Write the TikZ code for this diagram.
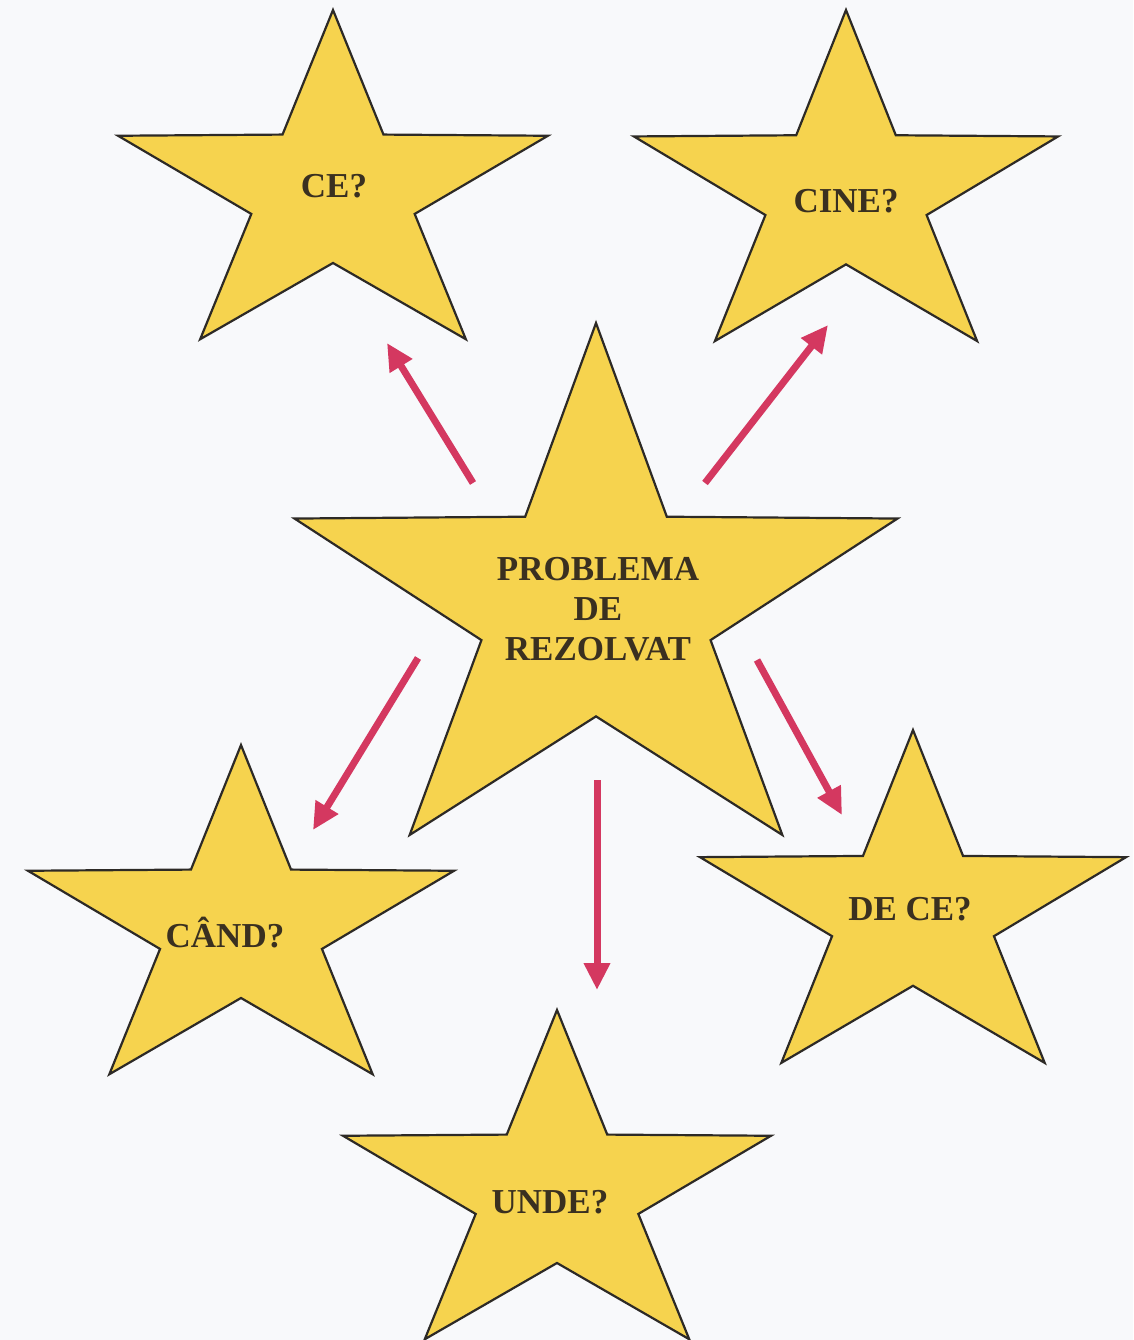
\documentclass[tikz,border=0pt]{standalone}
\usepackage{fontspec}
\setmainfont{Liberation Serif}
\usetikzlibrary{arrows.meta}
\definecolor{bgc}{RGB}{248,249,251}
\definecolor{starfill}{RGB}{246,211,78}
\definecolor{starline}{RGB}{45,42,38}
\definecolor{txt}{RGB}{58,48,32}
\definecolor{arrc}{RGB}{212,56,96}
\tikzset{
  starshape/.style={draw=starline, fill=starfill, line width=2.2pt, line join=miter},
  lbl/.style={font=\fontsize{35}{40}\selectfont\bfseries, text=txt, inner sep=0pt, align=center},
  arr/.style={draw=arrc, line width=7pt, -{Triangle[length=27pt,width=25pt]}},
}
% name, cx, cy (pixels, downward), Rx, Ry
\newcommand\mystarpoly[5]{%
  \begin{scope}[shift={(#2,-#3)}]
    \pgfmathsetmacro\irx{0.38*#4}\pgfmathsetmacro\iry{0.39*#5}
    \coordinate (#1) at (0,0);
    \draw[starshape] (90:{#4} and {#5}) -- (126:{\irx} and {\iry}) -- (162:{#4} and {#5})
      -- (198:{\irx} and {\iry}) -- (234:{#4} and {#5}) -- (270:{\irx} and {\iry})
      -- (306:{#4} and {#5}) -- (342:{\irx} and {\iry}) -- (18:{#4} and {#5})
      -- (54:{\irx} and {\iry}) -- cycle;
  \end{scope}}
\begin{document}
\begin{tikzpicture}[x=1pt,y=1pt]
\fill[bgc] (0,0) rectangle (1133,-1340);
\useasboundingbox (0,0) rectangle (1133,-1340);
\begin{scope}
\clip (0,0) rectangle (1133,-1340);
\mystarpoly{sce}{333}{192}{226}{182}
\mystarpoly{scine}{846}{193}{223}{183}
\mystarpoly{sprob}{596}{606}{317}{283}
\mystarpoly{scand}{241}{927}{224}{182}
\mystarpoly{sdece}{913}{914}{224}{184}
\mystarpoly{sunde}{557}{1192}{225}{182}
\end{scope}
\node[lbl, anchor=base] (ce) at (334,-198) {CE?};
\node[lbl, anchor=base] (cine) at (846,-213) {CINE?};
\node[lbl] (prob) at (598,-609) {PROBLEMA\\DE\\REZOLVAT};
\node[lbl, anchor=base] (cand) at (225,-947) {CÂND?};
\node[lbl, anchor=base] (dece) at (910,-920) {DE CE?};
\node[lbl, anchor=base] (unde) at (550,-1213) {UNDE?};
% arrow end points
\coordinate (a1s) at (473,-483); \coordinate (a1e) at (387,-343);
\coordinate (a2s) at (705,-483); \coordinate (a2e) at (828,-325);
\coordinate (a3s) at (418,-658); \coordinate (a3e) at (313,-830);
\coordinate (a4s) at (757,-660); \coordinate (a4e) at (842,-815);
\coordinate (a5s) at (597,-780); \coordinate (a5e) at (597,-990);
\draw[arr] (a1s) -- (a1e);
\draw[arr] (a2s) -- (a2e);
\draw[arr] (a3s) -- (a3e);
\draw[arr] (a4s) -- (a4e);
\draw[arr] (a5s) -- (a5e);
\end{tikzpicture}
\end{document}
